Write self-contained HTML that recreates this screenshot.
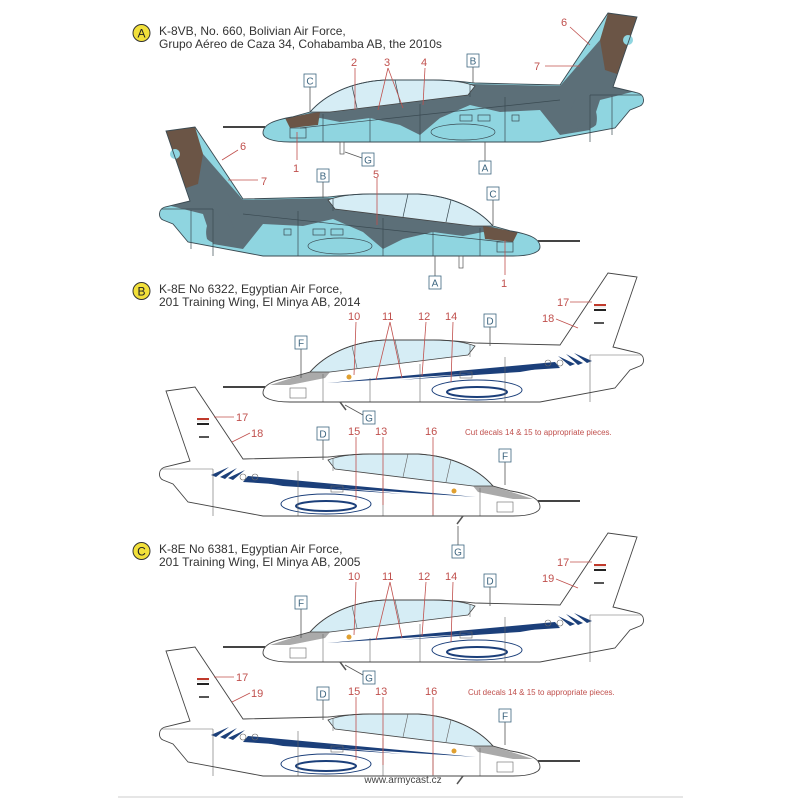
<!DOCTYPE html>
<html><head><meta charset="utf-8"><style>
html,body{margin:0;padding:0;background:#fff;}
svg{display:block;}
text{font-family:"Liberation Sans",sans-serif;}
.h{font-size:12px;fill:#333;}
.n{font-size:11px;fill:#c0504d;}
.bx{font-size:10px;fill:#3e6680;text-anchor:middle;}
.ln{stroke:#c0504d;stroke-width:0.8;fill:none;}
.lb{stroke:#555;stroke-width:0.8;fill:none;}
</style></head><body>
<svg width="800" height="800" viewBox="0 0 800 800" xmlns="http://www.w3.org/2000/svg">
<defs>
<path id="body" d="M263,133 C263,124 275,120 292,117 L310,112 C325,95 350,82 385,80 L433,80 C450,80 465,82 475,83 L560,85 L608,13 L637,17 L613,87 L638,93 C645,95 645,104 640,106 L630,110 L615,128 L540,142 L290,142 C272,142 263,138 263,133 Z"/>
<clipPath id="cb"><use href="#body"/></clipPath>
<g id="jetA">
 <line x1="223" y1="127" x2="265" y2="127" stroke="#444" stroke-width="2"/>
 <use href="#body" fill="#8fd5e0"/>
 <g clip-path="url(#cb)" fill="#5c6f78">
  <path d="M290,118 L330,108 L470,84 L560,86 L600,40 L640,20 L640,90 L600,100 L590,130 L560,135 L540,110 L500,112 L470,105 L440,118 L420,135 L400,125 L370,118 L340,122 L320,118 L300,124 Z"/>
  <path d="M575,100 C590,95 600,110 596,125 C585,135 565,128 570,112 Z"/>
 </g>
 <g clip-path="url(#cb)" fill="#6b5546">
  <path d="M600,40 L608,13 L637,17 L620,75 L605,70 Z"/>
  <path d="M285,118 L320,112 L318,125 L290,128 Z"/>
 </g>
 <circle cx="628" cy="40" r="5" fill="#8fd5e0"/>
 <path d="M310,112 C325,95 350,82 385,80 L433,80 C450,80 465,82 475,86 L468,95 L330,112 Z" fill="#d6edf5" stroke="#444" stroke-width="0.8"/>
 <g stroke="#3a4a52" stroke-width="0.7" fill="none">
  <line x1="352" y1="86" x2="357" y2="108"/><line x1="395" y1="80" x2="400" y2="103"/>
  <line x1="323" y1="114" x2="323" y2="142"/><line x1="370" y1="118" x2="370" y2="142"/>
  <line x1="420" y1="104" x2="420" y2="142"/><line x1="505" y1="97" x2="505" y2="142"/>
  <line x1="590" y1="95" x2="590" y2="142"/><line x1="612" y1="96" x2="612" y2="135"/>
  <line x1="300" y1="128" x2="560" y2="100"/>
  <line x1="470" y1="84" x2="470" y2="97"/><line x1="590" y1="95" x2="642" y2="95"/>
  <ellipse cx="463" cy="132" rx="32" ry="8"/>
  <rect x="460" y="115" width="12" height="6"/><rect x="478" y="115" width="12" height="6"/><rect x="512" y="115" width="7" height="6"/>
  <rect x="290" y="128" width="16" height="10"/>
 </g>
 <use href="#body" fill="none" stroke="#3a4a52" stroke-width="0.9"/>
 <rect x="340" y="142" width="4" height="12" fill="none" stroke="#555" stroke-width="0.7"/>
</g>
<g id="jetB">
 <line x1="223" y1="127" x2="265" y2="127" stroke="#444" stroke-width="2"/>
 <use href="#body" fill="#fff"/>
 <path d="M270,125 L310,112 L330,112 L325,118 L290,125 Z" fill="#aaa"/>
 <path d="M327,123 L555,102 L560,108 Z" fill="#1b3f7a"/>
 <path d="M400,120 L555,106 L520,112 Z" fill="#1b3f7a"/>
 <path d="M558,96 L575,104 L570,106 Z M566,94 L583,103 L578,105 Z M574,93 L592,101 L587,103 Z" fill="#1b3f7a"/>
 <ellipse cx="477" cy="130" rx="45" ry="10" fill="none" stroke="#1b3f7a" stroke-width="1"/>
 <ellipse cx="477" cy="132" rx="30" ry="5" fill="none" stroke="#1b3f7a" stroke-width="2"/>
 <path d="M310,112 C325,95 350,82 385,80 L433,80 C450,80 465,82 475,86 L468,95 L330,112 Z" fill="#d6edf5" stroke="#444" stroke-width="0.8"/>
 <g stroke="#666" stroke-width="0.6" fill="none">
  <line x1="352" y1="86" x2="357" y2="108"/><line x1="395" y1="80" x2="400" y2="103"/>
  <line x1="323" y1="114" x2="323" y2="142"/><line x1="370" y1="118" x2="370" y2="142"/>
  <line x1="420" y1="104" x2="420" y2="142"/><line x1="505" y1="97" x2="505" y2="142"/>
  <line x1="590" y1="95" x2="590" y2="142"/><line x1="470" y1="84" x2="470" y2="97"/>
  <line x1="590" y1="95" x2="642" y2="95"/>
  <rect x="290" y="128" width="16" height="10"/><rect x="460" y="112" width="12" height="6"/>
  <circle cx="548" cy="103" r="3"/><circle cx="560" cy="103" r="3"/>
 </g>
 <rect x="594" y="44" width="12" height="2" fill="#c0392b"/><rect x="594" y="46" width="12" height="2" fill="#eee"/><rect x="594" y="49" width="12" height="2" fill="#222"/>
 <rect x="594" y="62" width="10" height="2" fill="#555"/>
 <circle cx="349" cy="117" r="2.5" fill="#e0a030"/>
 <use href="#body" fill="none" stroke="#444" stroke-width="0.9"/>
 <path d="M340,142 L346,150" stroke="#555" stroke-width="1.5"/>
</g>
</defs>

<!-- A section -->
<circle cx="141.5" cy="33" r="8.5" fill="#f2e03a" stroke="#333" stroke-width="1"/>
<text x="141.5" y="37.5" text-anchor="middle" style="font-size:12px;fill:#222">A</text>
<text class="h" x="159" y="35">K-8VB, No. 660, Bolivian Air Force,</text>
<text class="h" x="159" y="48">Grupo Aéreo de Caza 34, Cohabamba AB, the 2010s</text>
<use href="#jetA"/>
<use href="#jetA" transform="translate(803,114) scale(-1,1)"/>

<!-- B section -->
<circle cx="141.5" cy="291" r="8.5" fill="#f2e03a" stroke="#333" stroke-width="1"/>
<text x="141.5" y="295.5" text-anchor="middle" style="font-size:12px;fill:#222">B</text>
<text class="h" x="159" y="293">K-8E No 6322, Egyptian Air Force,</text>
<text class="h" x="159" y="306">201 Training Wing, El Minya AB, 2014</text>
<use href="#jetB" transform="translate(0,260)"/>
<use href="#jetB" transform="translate(803,374) scale(-1,1)"/>

<!-- C section -->
<circle cx="141.5" cy="551" r="8.5" fill="#f2e03a" stroke="#333" stroke-width="1"/>
<text x="141.5" y="555.5" text-anchor="middle" style="font-size:12px;fill:#222">C</text>
<text class="h" x="159" y="553">K-8E No 6381, Egyptian Air Force,</text>
<text class="h" x="159" y="566">201 Training Wing, El Minya AB, 2005</text>
<use href="#jetB" transform="translate(0,520)"/>
<use href="#jetB" transform="translate(803,634) scale(-1,1)"/>

<!-- A labels -->
<g class="ln">
 <line x1="355" y1="68" x2="355" y2="110"/><line x1="388" y1="68" x2="378" y2="110"/><line x1="388" y1="68" x2="403" y2="108"/>
 <line x1="425" y1="68" x2="423" y2="105"/><line x1="570" y1="27" x2="590" y2="45"/><line x1="545" y1="66" x2="580" y2="66"/>
 <line x1="297" y1="160" x2="297" y2="132"/><line x1="238" y1="150" x2="222" y2="160"/><line x1="258" y1="180" x2="228" y2="180"/>
 <line x1="377" y1="178" x2="377" y2="225"/><line x1="505" y1="275" x2="505" y2="240"/>
</g>
<text class="n" x="351" y="66">2</text><text class="n" x="384" y="66">3</text><text class="n" x="421" y="66">4</text>
<text class="n" x="561" y="26">6</text><text class="n" x="534" y="70">7</text><text class="n" x="293" y="172">1</text>
<text class="n" x="240" y="150">6</text><text class="n" x="261" y="185">7</text><text class="n" x="373" y="178">5</text><text class="n" x="501" y="287">1</text>
<g class="lb">
 <line x1="310" y1="87" x2="310" y2="112"/><line x1="473" y1="67" x2="473" y2="83"/><line x1="362" y1="158" x2="345" y2="152"/>
 <line x1="485" y1="161" x2="485" y2="142"/><line x1="323" y1="182" x2="323" y2="198"/><line x1="493" y1="200" x2="493" y2="225"/>
 <line x1="435" y1="276" x2="435" y2="256"/>
</g>
<g fill="#fff" stroke="#3e6680" stroke-width="0.8">
 <rect x="304" y="74" width="12" height="13"/><rect x="467" y="54" width="12" height="13"/><rect x="362" y="153" width="12" height="13"/>
 <rect x="479" y="161" width="12" height="13"/><rect x="317" y="169" width="12" height="13"/><rect x="487" y="187" width="12" height="13"/>
 <rect x="429" y="276" width="12" height="13"/>
</g>
<text class="bx" x="310" y="84.5">C</text><text class="bx" x="473" y="64.5">B</text><text class="bx" x="368" y="163.5">G</text>
<text class="bx" x="485" y="171.5">A</text><text class="bx" x="323" y="179.5">B</text><text class="bx" x="493" y="197.5">C</text><text class="bx" x="435" y="286.5">A</text>

<!-- B and C labels (C = B + 260) -->
<g id="labB">
 <g class="ln">
  <line x1="356" y1="322" x2="354" y2="375"/><line x1="390" y1="322" x2="376" y2="380"/><line x1="390" y1="322" x2="402" y2="378"/>
  <line x1="426" y1="322" x2="422" y2="376"/><line x1="453" y1="322" x2="451" y2="382"/>
  <line x1="570" y1="302" x2="592" y2="302"/><line x1="556" y1="319" x2="578" y2="328"/>
  <line x1="234" y1="417" x2="214" y2="417"/><line x1="250" y1="433" x2="232" y2="442"/>
  <line x1="356" y1="437" x2="356" y2="500"/><line x1="383" y1="437" x2="383" y2="505"/><line x1="433" y1="437" x2="433" y2="515"/>
 </g>
 <text class="n" x="348" y="320">10</text><text class="n" x="382" y="320">11</text><text class="n" x="418" y="320">12</text><text class="n" x="445" y="320">14</text>
 <text class="n" x="557" y="306">17</text><text class="n" x="542" y="322">18</text>
 <text class="n" x="236" y="421">17</text><text class="n" x="251" y="437">18</text>
 <text class="n" x="348" y="435">15</text><text class="n" x="375" y="435">13</text><text class="n" x="425" y="435">16</text>
 <text x="465" y="435" style="font-size:8px;fill:#c0504d">Cut decals 14 &amp; 15 to appropriate pieces.</text>
 <g class="lb">
  <line x1="490" y1="327" x2="490" y2="346"/><line x1="301" y1="349" x2="301" y2="378"/><line x1="363" y1="415" x2="345" y2="405"/>
  <line x1="323" y1="440" x2="323" y2="460"/><line x1="505" y1="462" x2="505" y2="485"/>
 </g>
 <g fill="#fff" stroke="#3e6680" stroke-width="0.8">
  <rect x="484" y="314" width="12" height="13"/><rect x="295" y="336" width="12" height="13"/><rect x="363" y="411" width="12" height="13"/>
  <rect x="317" y="427" width="12" height="13"/><rect x="499" y="449" width="12" height="13"/>
 </g>
 <text class="bx" x="490" y="324.5">D</text><text class="bx" x="301" y="346.5">F</text><text class="bx" x="369" y="421.5">G</text>
 <text class="bx" x="323" y="437.5">D</text><text class="bx" x="505" y="459.5">F</text>
</g>
<g transform="translate(0,260)">
 <g class="ln">
  <line x1="356" y1="322" x2="354" y2="375"/><line x1="390" y1="322" x2="376" y2="380"/><line x1="390" y1="322" x2="402" y2="378"/>
  <line x1="426" y1="322" x2="422" y2="376"/><line x1="453" y1="322" x2="451" y2="382"/>
  <line x1="570" y1="302" x2="592" y2="302"/><line x1="556" y1="319" x2="578" y2="328"/>
  <line x1="234" y1="417" x2="214" y2="417"/><line x1="250" y1="433" x2="232" y2="442"/>
  <line x1="356" y1="437" x2="356" y2="500"/><line x1="383" y1="437" x2="383" y2="505"/><line x1="433" y1="437" x2="433" y2="515"/>
 </g>
 <text class="n" x="348" y="320">10</text><text class="n" x="382" y="320">11</text><text class="n" x="418" y="320">12</text><text class="n" x="445" y="320">14</text>
 <text class="n" x="557" y="306">17</text><text class="n" x="542" y="322">19</text>
 <text class="n" x="236" y="421">17</text><text class="n" x="251" y="437">19</text>
 <text class="n" x="348" y="435">15</text><text class="n" x="375" y="435">13</text><text class="n" x="425" y="435">16</text>
 <text x="468" y="435" style="font-size:8px;fill:#c0504d">Cut decals 14 &amp; 15 to appropriate pieces.</text>
 <g class="lb">
  <line x1="490" y1="327" x2="490" y2="346"/><line x1="301" y1="349" x2="301" y2="378"/><line x1="363" y1="415" x2="345" y2="405"/>
  <line x1="323" y1="440" x2="323" y2="460"/><line x1="505" y1="462" x2="505" y2="485"/>
 </g>
 <g fill="#fff" stroke="#3e6680" stroke-width="0.8">
  <rect x="484" y="314" width="12" height="13"/><rect x="295" y="336" width="12" height="13"/><rect x="363" y="411" width="12" height="13"/>
  <rect x="317" y="427" width="12" height="13"/><rect x="499" y="449" width="12" height="13"/>
 </g>
 <text class="bx" x="490" y="324.5">D</text><text class="bx" x="301" y="346.5">F</text><text class="bx" x="369" y="421.5">G</text>
 <text class="bx" x="323" y="437.5">D</text><text class="bx" x="505" y="459.5">F</text>
</g>
<!-- G for B2 -->
<line x1="458" y1="526" x2="458" y2="545" class="lb"/>
<rect x="452" y="545" width="12" height="13" fill="#fff" stroke="#3e6680" stroke-width="0.8"/>
<text class="bx" x="458" y="555.5">G</text>

<text x="403" y="783" text-anchor="middle" style="font-size:10px;fill:#444">www.armycast.cz</text>
<line x1="118" y1="797" x2="683" y2="797" stroke="#ccc" stroke-width="1"/>
</svg>
</body></html>
